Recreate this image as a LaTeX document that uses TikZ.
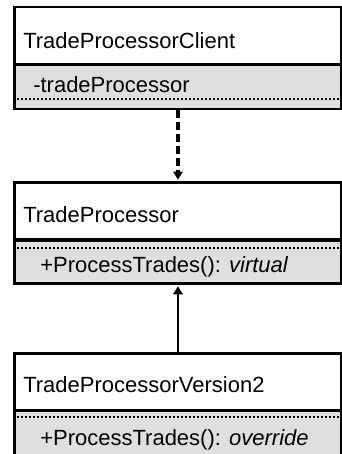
\documentclass[tikz,border=0pt]{standalone}
\usepackage{fontspec}
\setmainfont{Liberation Sans}
\usetikzlibrary{arrows.meta}
\definecolor{compgray}{HTML}{DFDFDF}

\tikzset{
  classbox/.style={draw=black, line width=2.2pt, fill=white, minimum width=245.25pt,
    minimum height=43.1pt, inner sep=0pt, anchor=north west},
  compbox/.style={draw=black, line width=2.2pt, fill=compgray, minimum width=245.25pt,
    inner sep=0pt, anchor=north west},
  nametext/.style={anchor=base west, inner sep=0pt, font=\fontsize{16.5}{20}\selectfont},
  membertext/.style={anchor=base west, inner sep=0pt, font=\fontsize{16.5}{20}\selectfont},
  sepline/.style={line width=1.8pt, dash pattern=on 1.6pt off 1.4pt},
  depends/.style={line width=2.4pt, dash pattern=on 6pt off 3pt, -{Triangle[length=6pt,width=7pt]}, shorten >=1pt},
  inherits/.style={line width=1.8pt, -{Triangle[length=6pt,width=7pt]}, shorten >=1pt}
}

\begin{document}
\begin{tikzpicture}[x=0.75pt, y=-0.75pt]
\useasboundingbox (0,0) rectangle (342,454);
\clip (0,0) rectangle (342,454);

\node[compbox, minimum height=33.4pt] (clientattr) at (13,63) {};
\node[classbox] (client) at (13,5.5) {};
\draw[sepline] (13,99) -- (340,99);
\node[nametext] (clientname) at (23,48) {TradeProcessorClient};
\node[membertext] (clientfield) at (33,92) {-tradeProcessor};

\node[compbox, minimum height=32.25pt] (processorops) at (13,239) {};
\node[classbox] (processor) at (13,181) {};
\draw[sepline] (13,248) -- (340,248);
\node[nametext] (processorname) at (23,222) {TradeProcessor};
\node[membertext] (processorop) at (40,272) {+ProcessTrades(): \textit{virtual}};

\node[compbox, minimum height=39pt] (version2ops) at (13,409) {};
\node[classbox] (version2) at (13,352) {};
\draw[sepline] (13,417) -- (340,417);
\node[nametext] (version2name) at (23,392) {TradeProcessorVersion2};
\node[membertext] (version2op) at (40,445) {+ProcessTrades(): \textit{override}};

\draw[depends] (clientattr.south) -- (processor.north);
\draw[inherits] (version2.north) -- (processorops.south);
\end{tikzpicture}
\end{document}
